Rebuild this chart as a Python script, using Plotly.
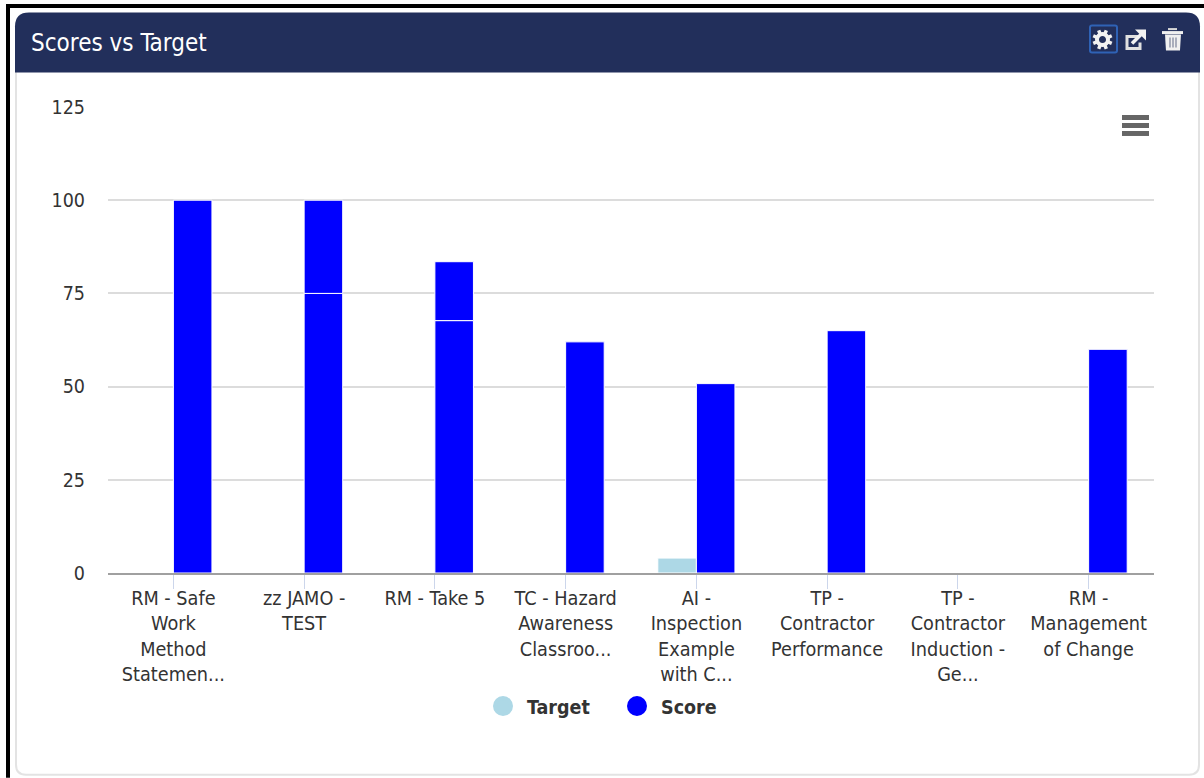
import math
import plotly.graph_objects as go

categories = ["RM - Safe<br>Work<br>Method<br>Statemen...", "zz JAMO -<br>TEST", "RM - Take 5",
              "TC - Hazard<br>Awareness<br>Classroo...", "AI -<br>Inspection<br>Example<br>with C...",
              "TP -<br>Contractor<br>Performance", "TP -<br>Contractor<br>Induction -<br>Ge...",
              "RM -<br>Management<br>of Change"]
target = [0, 0, 0, 0, 4, 0, 0, 0]
score_lower = [100, 75, 67.7, 62, 50.8, 65, 0, 60]
score_upper = [None, 25, 15.8, None, None, None, None, None]
y_ticks = [0, 25, 50, 75, 100, 125]

FONT = "'DejaVu Sans Condensed', 'Noto Sans', sans-serif"
TXT = "#333333"
L, R, T, B = 108, 1154, 106.5, 573
W, H = 1204, 778
px = lambda x: (x - L) / (R - L)
py = lambda y: (B - y) / (B - T)


def P(*cmds):
    out = []
    for c in cmds:
        if isinstance(c, str):
            out.append(c)
        else:
            out.append(f"{px(c[0]):.5f},{py(c[1]):.5f}")
    return " ".join(out)


def path(d, fill=None, line=None, lw=0, layer="above"):
    return dict(type="path", xref="paper", yref="paper", path=d, fillcolor=fill or "rgba(0,0,0,0)",
                line=dict(color=line or "rgba(0,0,0,0)", width=lw), layer=layer)


def seg(x0, y0, x1, y1, color, lw, layer="above"):
    return dict(type="line", xref="paper", yref="paper", x0=px(x0), y0=py(y0), x1=px(x1), y1=py(y1),
                line=dict(color=color, width=lw), layer=layer)


GX, GY = 1102.5, 39
gear = [dict(type="circle", xref="paper", yref="paper", x0=px(GX - 5.5), x1=px(GX + 5.5), y0=py(GY + 5.5),
             y1=py(GY - 5.5), line=dict(color="#f2f2f2", width=4), fillcolor="rgba(0,0,0,0)", layer="above")]
for k in range(8):
    a = k * math.pi / 4 + math.pi / 8
    gear.append(seg(GX + 6 * math.cos(a), GY + 6 * math.sin(a), GX + 10 * math.cos(a), GY + 10 * math.sin(a),
                    "#f2f2f2", 3.5))

shapes = [
    # page frame
    seg(6, 5.5, 1204, 5.5, "#000000", 4, "below"),
    seg(8, 4, 8, 778, "#000000", 4, "below"),
    # card
    path(P("M", (16, 24), "L", (16, 765), "Q", (16, 775), (26, 775), "L", (1189, 775), "Q", (1199, 775), (1199, 765),
           "L", (1199, 24)), fill="#ffffff", line="#e3e3e3", lw=2, layer="below"),
    # header
    path(P("M", (15, 72), "L", (15, 26), "Q", (15, 12), (29, 12), "L", (1186, 12), "Q", (1200, 12), (1200, 26),
           "L", (1200, 72), "Z"), fill="#222f5b", layer="below"),
    # gear box
    path(P("M", (1090, 27), "Q", (1090, 25), (1092, 25), "L", (1115, 25), "Q", (1117, 25), (1117, 27),
           "L", (1117, 50), "Q", (1117, 52), (1115, 52), "L", (1092, 52), "Q", (1090, 52), (1090, 50), "Z"),
         line="#2f62b5", lw=2),
    # external link icon
    path(P("M", (1140, 36), "L", (1127, 36), "L", (1127, 48), "L", (1140, 48), "L", (1140, 42)), line="#e0e0e0", lw=3),
    seg(1132, 43, 1141, 34, "#f2f2f2", 3.5),
    path(P("M", (1135, 29), "L", (1146, 29), "L", (1146, 40), "Z"), fill="#f2f2f2"),
    # trash icon
    seg(1162, 32, 1183, 32, "#f0f0f0", 3),
    seg(1168, 28.5, 1177, 28.5, "#d8d8d8", 2),
    path(P("M", (1165, 34), "L", (1181, 34), "L", (1180, 50), "L", (1166, 50), "Z"), fill="#f0f0f0"),
    seg(1170, 37, 1170, 47, "#7a8199", 1.2),
    seg(1173, 37, 1173, 47, "#7a8199", 1.2),
    seg(1176, 37, 1176, 47, "#7a8199", 1.2),
    # hamburger
    seg(1122, 117, 1149, 117, "#666666", 5),
    seg(1122, 125, 1149, 125, "#666666", 5),
    seg(1122, 133, 1149, 133, "#666666", 5),
] + gear

fig = go.Figure()
fig.add_bar(x=categories, y=target, name="Target", offsetgroup="target", showlegend=False,
            marker=dict(color="#add8e6", line=dict(color="#ffffff", width=1)))
fig.add_bar(x=categories, y=score_lower, name="Score", offsetgroup="score", showlegend=False,
            marker=dict(color="#0000ff", line=dict(color="#ffffff", width=1)))
fig.add_bar(x=categories, y=score_upper, base=score_lower, name="Score", offsetgroup="score", showlegend=False,
            marker=dict(color="#0000ff", line=dict(color="#ffffff", width=1)))
fig.add_scatter(x=[None], y=[None], name="Target", mode="markers",
                marker=dict(color="#add8e6", size=16, line=dict(color="#add8e6", width=4)))
fig.add_scatter(x=[None], y=[None], name="Score", mode="markers",
                marker=dict(color="#0000ff", size=16, line=dict(color="#0000ff", width=4)))

fig.update_layout(
    width=W, height=H, autosize=False,
    margin=dict(l=L, r=W - R, t=T, b=H - B, pad=0),
    paper_bgcolor="#ffffff", plot_bgcolor="rgba(0,0,0,0)",
    barmode="group", bargap=0.41, bargroupgap=0,
    font=dict(family=FONT, size=20, color=TXT),
    shapes=shapes,
    legend=dict(orientation="h", x=px(479), xanchor="left", y=py(687), yanchor="top",
                font=dict(family=FONT, size=19.5, color=TXT, weight=700), bgcolor="rgba(0,0,0,0)",
                itemsizing="trace", itemwidth=38, traceorder="normal", entrywidth=81, entrywidthmode="pixels",
                itemclick=False, itemdoubleclick=False),
    annotations=[
        dict(text="Scores vs Target", xref="paper", yref="paper", x=px(29), y=py(42), xanchor="left", yanchor="middle",
             showarrow=False, font=dict(family=FONT, size=24, color="#ffffff")),
    ],
)
fig.update_xaxes(type="category", showgrid=False, showline=True, linecolor="#a0a0a0", linewidth=2,
                 ticks="outside", ticklen=14, tickwidth=1, tickcolor="#ccd6eb", tickangle=0,
                 tickfont=dict(family=FONT, size=19.7, color=TXT), ticklabelstandoff=-8, automargin=False)
fig.update_yaxes(range=[0, 125], tickvals=y_ticks, showgrid=True, gridcolor="#dcdcdc", gridwidth=2,
                 zeroline=False, showline=False, ticks="", ticklabelstandoff=22,
                 tickfont=dict(family=FONT, size=19.5, color=TXT), automargin=False)

fig.write_html("out.html", config=dict(displayModeBar=False),
               post_script="document.body.style.margin='0';document.body.style.overflow='hidden';")
